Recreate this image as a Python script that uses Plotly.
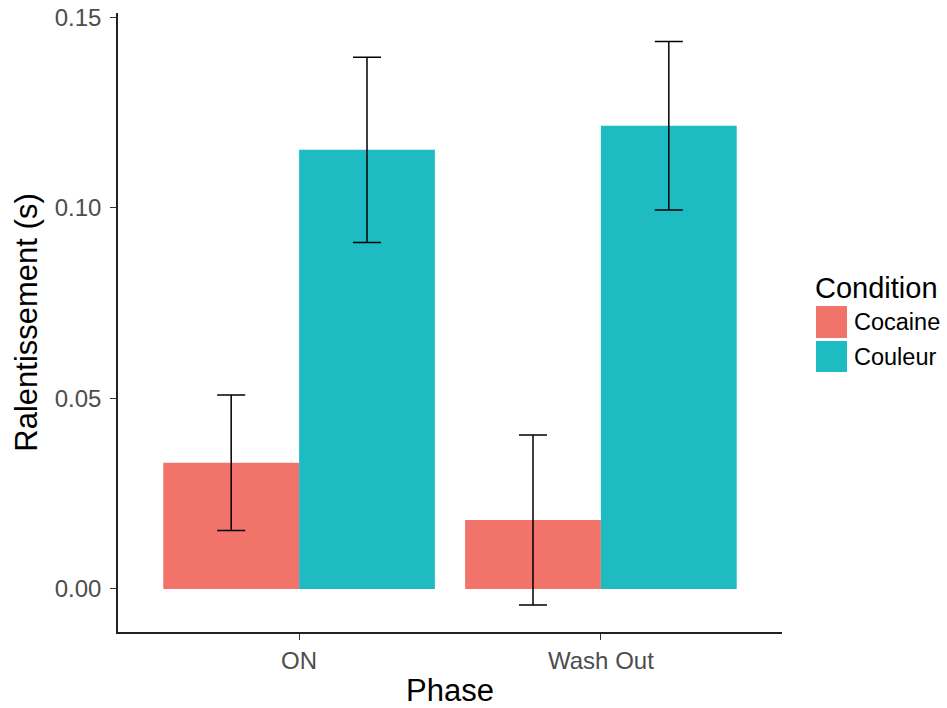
import plotly.graph_objects as go

phases = ["ON", "Wash Out"]
conditions = ["Cocaine", "Couleur"]
cocaine_mean = [0.0331, 0.0181]
cocaine_se = [0.0178, 0.0223]
couleur_mean = [0.1152, 0.1215]
couleur_se = [0.0243, 0.0221]
colors = ["#F2736A", "#1FBBC2"]
yticks = [0.0, 0.05, 0.10, 0.15]
ytick_labels = ["0.00", "0.05", "0.10", "0.15"]

FONT = "Liberation Sans, Arial, Helvetica, sans-serif"

fig = go.Figure()
for name, means, ses, col in zip(conditions, [cocaine_mean, couleur_mean],
                                 [cocaine_se, couleur_se], colors):
    fig.add_trace(go.Bar(
        x=phases, y=means, name=name, marker=dict(color=col, line=dict(width=0)),
        error_y=dict(type="data", array=ses, visible=True, color="black",
                     thickness=1.5, width=14),
        showlegend=False,
    ))

# manual legend (ggplot style)
fig.add_annotation(text="Condition", xref="paper", yref="paper", x=1.0467, y=0.5557,
                   xanchor="left", yanchor="middle", showarrow=False,
                   font=dict(family=FONT, size=29, color="black"))
key_y = [(0.475, 0.5267), (0.42, 0.4701)]
for (y0, y1), name, col in zip(key_y, conditions, colors):
    fig.add_shape(type="rect", xref="paper", yref="paper", x0=1.0512, x1=1.0979,
                  y0=y0, y1=y1, fillcolor=col, line=dict(width=0))
    fig.add_annotation(text=name, xref="paper", yref="paper", x=1.1054, y=(y0 + y1) / 2,
                       xanchor="left", yanchor="middle", showarrow=False,
                       font=dict(family=FONT, size=23.5, color="black"))

fig.update_layout(
    width=947, height=708,
    margin=dict(l=118, r=165, t=13, b=76),
    plot_bgcolor="white", paper_bgcolor="white",
    barmode="group", bargap=0.1, bargroupgap=0,
    font=dict(family=FONT, color="black"),
    xaxis=dict(
        range=[-0.6, 1.6], showgrid=False, zeroline=False, automargin=False,
        showline=True, linecolor="#222", linewidth=1.5,
        ticks="outside", ticklen=6, tickcolor="#333", tickwidth=1.2,
        tickfont=dict(family=FONT, size=24, color="#4d4d4d"),
        title=dict(text="Phase", font=dict(family=FONT, size=31, color="black"), standoff=16),
    ),
    yaxis=dict(
        range=[-0.0113, 0.1511], showgrid=False, zeroline=False, automargin=False,
        showline=True, linecolor="#222", linewidth=1.5,
        ticks="outside", ticklen=6, tickcolor="#333", tickwidth=1.2,
        ticklabelstandoff=4, ticklabeloverflow="allow",
        tickvals=yticks, ticktext=ytick_labels,
        tickfont=dict(family=FONT, size=24, color="#4d4d4d"),
        title=dict(text="Ralentissement (s)", font=dict(family=FONT, size=31, color="black"), standoff=8),
    ),
)

# remove the default page margin so the 947x708 figure fills the window exactly
fig.write_html("out.html",
               config={"displayModeBar": False},
               post_script="document.body.style.margin='0';document.body.style.overflow='hidden';")
